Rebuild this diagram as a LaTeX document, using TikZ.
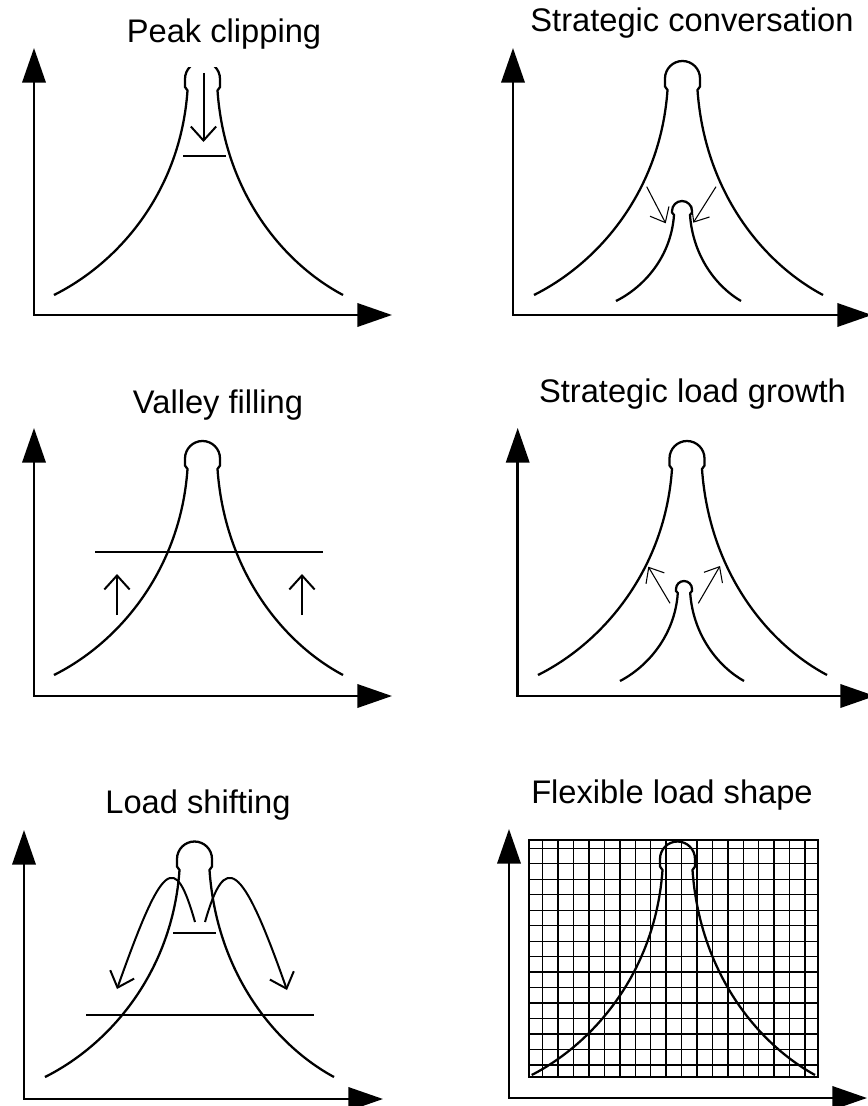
\documentclass[tikz,border=0pt]{standalone}
\usepackage{fontspec}
\setmainfont{Liberation Sans}
\usetikzlibrary{arrows.meta}
\tikzset{
  axes/.style={line width=1.9pt,{Triangle[length=26pt,width=17.5pt]}-{Triangle[length=26pt,width=17.5pt]}},
  load/.style={line width=1.7pt},
  level/.style={line width=1.7pt},
  move/.style={line width=1.5pt,-{Straight Barb[length=10.5pt,width=19pt]}},
  thinmove/.style={line width=0.8pt,-{Straight Barb[length=9.5pt,width=16pt]}},
  gridline/.style={line width=1pt},
  title/.style={font=\fontsize{24.5}{28}\selectfont,anchor=base,inner sep=0pt}
}

\begin{document}
\begin{tikzpicture}[x=0.75pt,y=-0.75pt]
  \useasboundingbox (0,0) rectangle (867,1106);

  % peak clipping
  \node[title] (tclip) at (224,43) {Peak clipping};
  \draw[axes] (34,48) |- (392,315);
  \begin{scope}
    \clip (0,68) rectangle (420,340);
    \draw[load] (54,295) .. controls +(66,-33) and +(-7,100) .. (187.5,90.5)
      -- (185,87) -- (185,79) arc[start angle=180,end angle=360,radius=17.5]
      -- (220,87) -- (217.5,90.5) .. controls +(7,100) and +(-62,-33) .. (343,295);
  \end{scope}
  \draw[move] (203.5,73) -- (203.5,142);
  \draw[level] (183,156) -- (226,156);

  % strategic conversation
  \node[title] (tcons) at (692,32) {Strategic conversation};
  \draw[axes] (513,48) |- (872,315);
  \draw[load] (534,295) .. controls +(66,-33) and +(-7,100) .. (667.5,90)
    -- (665,86.5) -- (665,78.5) arc[start angle=180,end angle=360,radius=17.5]
    -- (700,86.5) -- (697.5,90) .. controls +(7,100) and +(-62,-33) .. (823,295);
  \draw[load] (616,301) .. controls +(28,-14) and +(-3,42) .. (674,215)
    -- (672,212.5) -- (672,211) arc[start angle=180,end angle=360,radius=10]
    -- (692,212.5) -- (690,215) .. controls +(3,42) and +(-24,-14) .. (741,301);
  \draw[thinmove] (646.7,186.7) -- (665.7,223.3);
  \draw[thinmove] (716,186.7) -- (693.3,222.7);

  % valley filling
  \node[title] (tvalley) at (218,413) {Valley filling};
  \draw[axes] (34,428) |- (392,696);
  \draw[load] (54,675) .. controls +(66,-33) and +(-7,100) .. (187.5,469)
    -- (185,465.5) -- (185,458.5) arc[start angle=180,end angle=360,radius=17.5]
    -- (220,465.5) -- (217.5,469) .. controls +(7,100) and +(-62,-33) .. (343,675);
  \draw[level] (95,552) -- (323,552);
  \draw[move] (117,615) -- (117,574);
  \draw[move] (302,615) -- (302,574);

  % strategic load growth
  \node[title] (tgrowth) at (692.5,402) {Strategic load growth};
  \draw[axes] (517.7,428) |- (875,696);
  \draw[load] (538,675) .. controls +(66,-33) and +(-7,100) .. (672,469)
    -- (669.5,465.5) -- (669.5,458.5) arc[start angle=180,end angle=360,radius=17.5]
    -- (704.5,465.5) -- (702,469) .. controls +(7,100) and +(-62,-33) .. (827,675);
  \draw[load] (620,681) .. controls +(27,-14) and +(-3,43) .. (677.8,593)
    -- (676,591) -- (676,589) arc[start angle=180,end angle=360,radius=8]
    -- (692,591) -- (690.2,593) .. controls +(3,43) and +(-25,-14) .. (744,681);
  \draw[thinmove] (670,603.3) -- (648.3,566.7);
  \draw[thinmove] (698.3,603.3) -- (720,566);

  % load shifting
  \node[title] (tshift) at (198,813) {Load shifting};
  \draw[axes] (24,830) |- (383,1099);
  \draw[load] (45,1077) .. controls +(66,-33) and +(-7,101) .. (179.5,870)
    -- (177,866.5) -- (177,859) arc[start angle=180,end angle=360,radius=17.5]
    -- (212,866.5) -- (209.5,870) .. controls +(7,101) and +(-61,-33) .. (334,1077);
  \draw[level] (173,933) -- (216,933);
  \draw[level] (86,1015) -- (314,1015);
  \draw[move] (195,922) .. controls (175,852) and (163,859) .. (117,989);
  \draw[move] (205,922) .. controls (225,852) and (241,859) .. (287,990);

  % flexible load shape
  \node[title] (tflex) at (672,803) {Flexible load shape};
  \draw[axes] (509,829) |- (867,1098);
  \foreach \i in {0,...,17}
    \draw[gridline] (542.7+15.43*\i,840) -- (542.7+15.43*\i,1076.7);
  \foreach \j in {0,...,14}
    \draw[gridline] (529,848.3+15.48*\j) -- (817.7,848.3+15.48*\j);
  \draw[line width=1.6pt] (529,840) rectangle (817.7,1076.7);
  \draw[load] (531.7,1075) .. controls +(64,-33) and +(-7,100) .. (662.5,870)
    -- (660,866.5) -- (660,859) arc[start angle=180,end angle=360,radius=17.5]
    -- (695,866.5) -- (692.5,870) .. controls +(7,100) and +(-60,-33) .. (815,1075);
\end{tikzpicture}
\end{document}
